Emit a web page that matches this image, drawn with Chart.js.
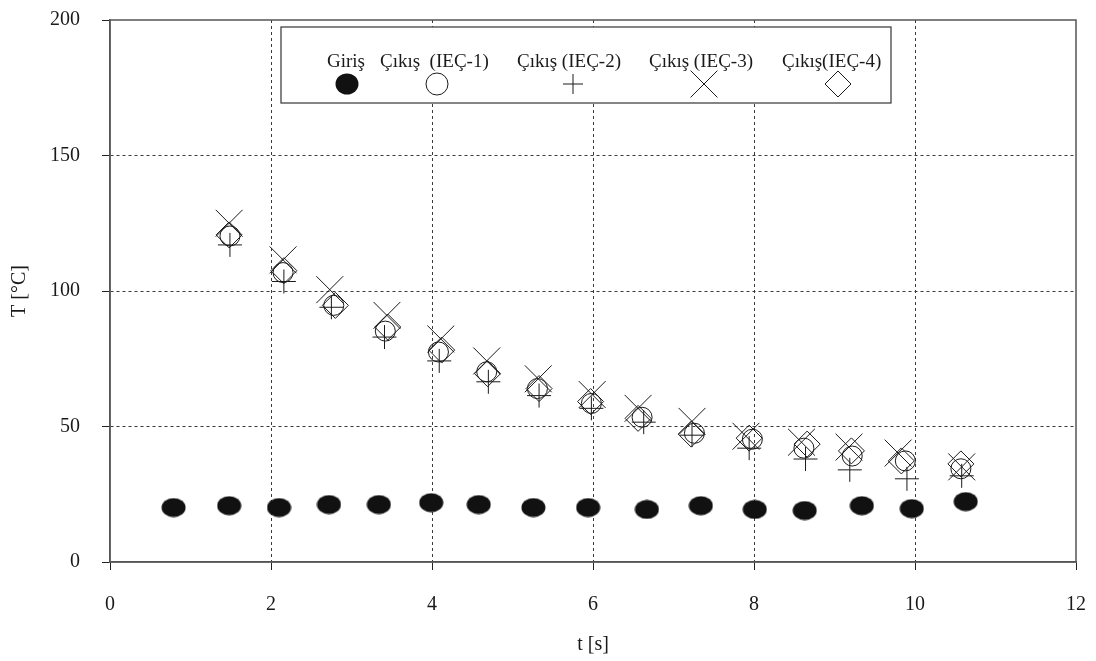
<!DOCTYPE html>
<html>
<head>
<meta charset="utf-8">
<script src="https://cdn.jsdelivr.net/npm/chart.js@4/dist/chart.umd.min.js"></script>
<style>
  html, body { margin: 0; padding: 0; background: #fff; }
  #wrap { width: 1096px; height: 661px; position: relative; }
</style>
</head>
<body>
<div id="wrap"><canvas id="c" width="1096" height="661"></canvas></div>
<script>
// ---- data ----
const seriesLabels = ["Giriş", "Çıkış  (IEÇ-1)", "Çıkış (IEÇ-2)", "Çıkış (IEÇ-3)", "Çıkış(IEÇ-4)"];
const xTitle = "t [s]";
const yTitle = "T [°C]";

const tInlet = [0.79, 1.48, 2.10, 2.72, 3.34, 3.99, 4.58, 5.26, 5.94, 6.67, 7.34, 8.01, 8.63, 9.34, 9.96, 10.63];
const TInlet = [20.1, 20.8, 20.1, 21.2, 21.2, 21.9, 21.2, 20.1, 20.1, 19.4, 20.8, 19.4, 19.0, 20.8, 19.7, 22.3];

const tIec1 = [1.49, 2.15, 2.78, 3.42, 4.08, 4.68, 5.31, 5.98, 6.61, 7.26, 7.98, 8.62, 9.22, 9.88, 10.57];
const TIec1 = [120.3, 106.8, 94.7, 85.2, 77.5, 70.2, 64.0, 58.5, 53.4, 47.5, 45.3, 42.0, 39.1, 37.3, 34.4];

const tIec2 = [1.49, 2.16, 2.75, 3.41, 4.09, 4.70, 5.33, 5.98, 6.63, 7.23, 7.94, 8.64, 9.19, 9.90, 10.58];
const TIec2 = [117.0, 103.5, 94.0, 83.0, 74.2, 66.5, 61.4, 56.7, 51.6, 46.8, 42.0, 38.0, 34.0, 30.7, 31.8];

const tIec3 = [1.48, 2.15, 2.73, 3.44, 4.11, 4.68, 5.32, 5.99, 6.56, 7.23, 7.90, 8.59, 9.18, 9.79, 10.58];
const TIec3 = [125.0, 111.5, 100.5, 91.0, 82.3, 74.2, 67.6, 61.8, 56.7, 51.9, 46.4, 44.2, 42.4, 40.2, 35.1];

const tIec4 = [1.48, 2.16, 2.80, 3.45, 4.12, 4.69, 5.33, 5.97, 6.56, 7.22, 7.94, 8.66, 9.21, 9.83, 10.57];
const TIec4 = [120.7, 107.5, 94.7, 86.7, 78.2, 69.5, 64.0, 59.2, 53.0, 47.2, 45.7, 43.5, 41.0, 37.3, 36.2];

const xMin = 0, xMax = 12, xStep = 2;
const yMin = 0, yMax = 200, yStep = 50;

// ---- helpers ----
function pts(xs, ys) { return xs.map((x, i) => ({ x: x, y: ys[i] })); }

// filled ellipse marker
const ellipse = document.createElement('canvas');
ellipse.width = 25; ellipse.height = 20;
(function () {
  const g = ellipse.getContext('2d');
  g.fillStyle = '#111';
  g.beginPath();
  g.ellipse(12.5, 10, 12, 9.5, 0, 0, Math.PI * 2);
  g.fill();
})();
// rounder version for the legend
const ellipseLeg = document.createElement('canvas');
ellipseLeg.width = 24; ellipseLeg.height = 22;
(function () {
  const g = ellipseLeg.getContext('2d');
  g.fillStyle = '#111';
  g.beginPath();
  g.ellipse(12, 11, 11.5, 10.5, 0, 0, Math.PI * 2);
  g.fill();
})();

const INK = '#1a1a1a';
const FONT = '"Liberation Serif", "DejaVu Serif", serif';

const datasets = [
  { label: seriesLabels[0], data: pts(tInlet, TInlet), pointStyle: ellipse, pointRadius: 12, borderColor: INK, backgroundColor: INK },
  { label: seriesLabels[1], data: pts(tIec1, TIec1), pointStyle: 'circle', pointRadius: 10, borderColor: INK, backgroundColor: 'rgba(0,0,0,0)', pointBorderWidth: 1 },
  { label: seriesLabels[2], data: pts(tIec2, TIec2), pointStyle: 'cross', pointRadius: 12, borderColor: INK, backgroundColor: 'rgba(0,0,0,0)', pointBorderWidth: 1 },
  { label: seriesLabels[3], data: pts(tIec3, TIec3), pointStyle: 'crossRot', pointRadius: 19, borderColor: INK, backgroundColor: 'rgba(0,0,0,0)', pointBorderWidth: 1 },
  { label: seriesLabels[4], data: pts(tIec4, TIec4), pointStyle: 'rectRot', pointRadius: 13, borderColor: INK, backgroundColor: 'rgba(0,0,0,0)', pointBorderWidth: 1 }
];
datasets.forEach(d => { d.showLine = false; d.pointHoverRadius = d.pointRadius; });

// frame + in-plot legend
const framePlugin = {
  id: 'frame',
  afterDatasetsDraw(chart) {
    const { ctx, chartArea: a } = chart;
    ctx.save();
    ctx.strokeStyle = '#555';
    ctx.lineWidth = 1.5;
    ctx.strokeRect(a.left, a.top, a.right - a.left, a.bottom - a.top);

    // legend box
    const bx = 281, by = 27, bw = 610, bh = 76;
    ctx.fillStyle = '#fff';
    ctx.fillRect(bx, by, bw, bh);
    ctx.strokeStyle = '#444';
    ctx.lineWidth = 1.3;
    ctx.strokeRect(bx, by, bw, bh);

    const textX = [327, 380, 517, 649, 782];
    const markX = [347, 437, 573, 704, 838];
    const textY = 67, markY = 84;
    ctx.font = '19px ' + FONT;
    ctx.textBaseline = 'alphabetic';
    ctx.textAlign = 'left';
    chart.data.datasets.forEach((ds, i) => {
      ctx.fillStyle = INK;
      ctx.fillText(ds.label, textX[i], textY);
      const r = i === 2 ? 10 : (i === 1 ? 11 : ds.pointRadius);
      const style = i === 0 ? ellipseLeg : ds.pointStyle;
      ctx.strokeStyle = ds.borderColor;
      ctx.fillStyle = ds.backgroundColor;
      ctx.lineWidth = 1;
      Chart.helpers.drawPoint(ctx, { pointStyle: style, radius: r, rotation: 0, borderWidth: 1 }, markX[i], markY);
    });
    ctx.restore();
  }
};

const gridColor = (lo, hi) => (c) => (c.tick && (c.tick.value === lo || c.tick.value === hi)) ? 'rgba(0,0,0,0)' : '#3a3a3a';

new Chart(document.getElementById('c'), {
  type: 'scatter',
  data: { datasets: datasets },
  plugins: [framePlugin],
  options: {
    responsive: false,
    animation: false,
    events: [],
    layout: { padding: { top: 15, right: 19, bottom: 0, left: 0 } },
    plugins: { legend: { display: false }, tooltip: { enabled: false } },
    scales: {
      x: {
        type: 'linear', min: xMin, max: xMax,
        afterFit(s) { s.height = 99; s.paddingLeft = 0; s.paddingRight = 0; },
        ticks: { stepSize: xStep, padding: 23, color: INK, font: { family: FONT, size: 20 } },
        grid: { color: gridColor(xMin, xMax), lineWidth: 1, tickLength: 8, tickColor: '#222', tickWidth: 1, tickBorderDash: [] },
        border: { display: true, color: '#555', width: 1.5, dash: [3, 3] },
        title: { display: true, text: xTitle, color: INK, font: { family: FONT, size: 20 }, padding: { top: 0, bottom: 4 } }
      },
      y: {
        type: 'linear', min: yMin, max: yMax,
        afterFit(s) { s.width = 110; s.paddingTop = 0; s.paddingBottom = 0; },
        ticks: { stepSize: yStep, padding: 22, color: INK, font: { family: FONT, size: 20 } },
        grid: { color: gridColor(yMin, yMax), lineWidth: 1, tickLength: 8, tickColor: '#222', tickWidth: 1, tickBorderDash: [] },
        border: { display: true, color: '#555', width: 1.5, dash: [3, 3] },
        title: { display: true, text: yTitle, color: INK, font: { family: FONT, size: 20 }, padding: { top: 8, bottom: 0 } }
      }
    }
  }
});
</script>
</body>
</html>
